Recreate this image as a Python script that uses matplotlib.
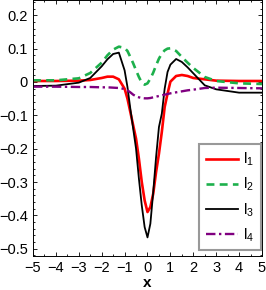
import matplotlib
matplotlib.use("Agg")
import matplotlib.pyplot as plt
from matplotlib.ticker import MultipleLocator

plt.rcParams['font.family'] = ['Liberation Sans', 'DejaVu Sans']

# valeurs
x = [-5, -4, -3, -2.5, -2, -1.75, -1.5, -1.25, -1, -0.875, -0.75, -0.625, -0.5,
     -0.375, -0.25, -0.125, 0, 0.125, 0.25, 0.375, 0.5, 0.625, 0.75, 0.875, 1,
     1.25, 1.5, 1.75, 2, 2.5, 3, 4, 5]

l1 = [0.003, 0.003, 0.004, 0.006, 0.012, 0.016, 0.016, 0.008, -0.02, -0.05, -0.09,
      -0.13, -0.17, -0.23, -0.30, -0.355, -0.39, -0.375, -0.335, -0.27, -0.215,
      -0.15, -0.075, -0.035, 0.001, 0.018, 0.021, 0.018, 0.012, 0.008, 0.004,
      0.003, 0.003]

l2 = [0.005, 0.005, 0.011, 0.027, 0.058, 0.08, 0.097, 0.106, 0.102, 0.093, 0.075,
      0.056, 0.035, 0.015, -0.002, -0.008, -0.004, 0.01, 0.028, 0.05, 0.07, 0.085,
      0.095, 0.1, 0.101, 0.093, 0.075, 0.058, 0.042, 0.015, 0.003, -0.004, -0.006]

l3 = [-0.012, -0.011, -0.002, 0.012, 0.047, 0.068, 0.084, 0.088, 0.035, -0.015,
      -0.08, -0.14, -0.20, -0.29, -0.37, -0.435, -0.466, -0.425, -0.33, -0.225,
      -0.135, -0.095, -0.02, 0.03, 0.052, 0.069, 0.06, 0.044, 0.026, -0.01,
      -0.022, -0.032, -0.032]

l4 = [-0.014, -0.014, -0.015, -0.015, -0.016, -0.016, -0.017, -0.018, -0.021,
      -0.025, -0.031, -0.038, -0.043, -0.046, -0.048, -0.049, -0.049, -0.048,
      -0.046, -0.044, -0.042, -0.04, -0.038, -0.036, -0.034, -0.031, -0.028,
      -0.025, -0.023, -0.018, -0.017, -0.018, -0.019]

fig = plt.figure(figsize=(2.66, 2.90), dpi=100)
ax = fig.add_axes([0.124, 0.117, 0.861, 0.882])

ax.plot(x, l1, color='#ff0000', lw=1.9, label=r'$\mathregular{l_1}$')
ax.plot(x, l2, color='#1db04c', lw=1.9, ls=(0, (3, 2)), label=r'$\mathregular{l_2}$')
ax.plot(x, l3, color='black', lw=1.3, label=r'$\mathregular{l_3}$')
ax.plot(x, l4, color='#800080', lw=1.7, ls=(0, (4, 1.5, 1, 1.5)), label=r'$\mathregular{l_4}$')

ax.set_xlim(-5, 5)
ax.set_ylim(-0.522, 0.245)
ax.set_xticks(range(-5, 6))
ax.set_yticks([-0.5, -0.4, -0.3, -0.2, -0.1, 0, 0.1, 0.2])
ax.set_yticklabels(['\u22120.5', '\u22120.4', '\u22120.3', '\u22120.2', '\u22120.1', '0', '0.1', '0.2'])
ax.xaxis.set_minor_locator(MultipleLocator(0.5))
ax.yaxis.set_minor_locator(MultipleLocator(0.02))
ax.tick_params(which='both', direction='in', top=True, right=True, labelsize=10.5, width=0.6)
ax.tick_params(which='major', length=3)
ax.tick_params(which='minor', length=1.5)
for s in ax.spines.values():
    s.set_linewidth(0.7)
ax.set_xlabel('x', fontweight='bold', fontsize=11, labelpad=1)

leg = ax.legend(loc='lower right', bbox_to_anchor=(0.997, 0.022), borderaxespad=0,
                fontsize=11, handlelength=2.1, handletextpad=0.35, labelspacing=0.5,
                borderpad=0.45, fancybox=False, framealpha=1, edgecolor='#999999')
leg.get_frame().set_linewidth(1.5)

fig.savefig('out.png', dpi=100)
